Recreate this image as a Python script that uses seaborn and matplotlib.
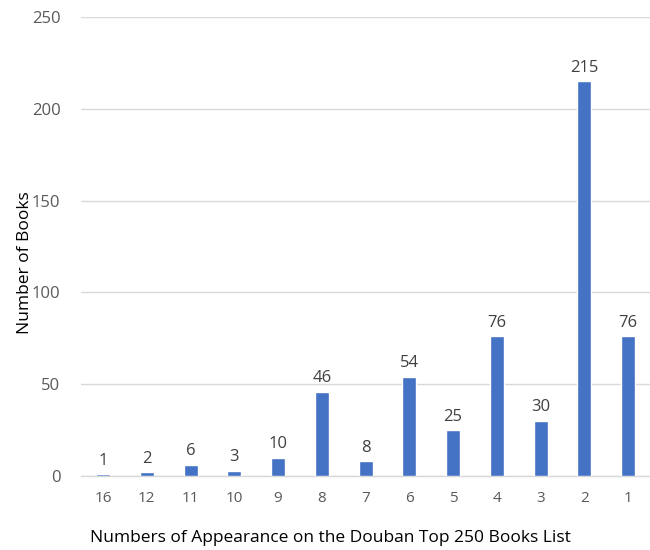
import matplotlib
matplotlib.use("Agg")
import matplotlib.pyplot as plt
import seaborn as sns
import pandas as pd

appearances = ["16", "12", "11", "10", "9", "8", "7", "6", "5", "4", "3", "2", "1"]
book_counts = [1, 2, 6, 3, 10, 46, 8, 54, 25, 76, 30, 215, 76]
y_ticks = [0, 50, 100, 150, 200, 250]

sns.set_theme(style="white")
plt.rcParams["font.family"] = ["Open Sans", "DejaVu Sans"]

df = pd.DataFrame({"appearances": appearances, "books": book_counts})

fig = plt.figure(figsize=(6.5, 5.5), dpi=100)
ax = fig.add_axes([0.125, 0.1345, 0.875, 0.8345])

sns.barplot(data=df, x="appearances", y="books", order=appearances,
            color="#4472C4", width=0.32, saturation=1, ax=ax, zorder=3)

ax.set_ylim(0, 250)
ax.set_xlim(-0.5, len(appearances) - 0.5)
ax.set_yticks(y_ticks)
ax.grid(axis="y", color="#D9D9D9", linewidth=1, zorder=0)
for s in ["top", "right", "left"]:
    ax.spines[s].set_visible(False)
ax.spines["bottom"].set_color("#D9D9D9")
ax.spines["bottom"].set_linewidth(1)

ax.tick_params(axis="both", length=0, colors="#595959")
ax.tick_params(axis="x", pad=11, labelsize=11)
ax.tick_params(axis="y", pad=15, labelsize=12)

for cont in ax.containers:
    ax.bar_label(cont, labels=[str(v) for v in book_counts], padding=4,
                 fontsize=12, color="#404040")

ax.set_xlabel("")
ax.set_ylabel("")
fig.text(0.508, 0.008, "Numbers of Appearance on the Douban Top 250 Books List",
         ha="center", va="bottom", fontsize=12.5, color="black")
fig.text(0.038, 0.523, "Number of Books", ha="center", va="center",
         rotation=90, fontsize=12.5, color="black")

fig.savefig("out.png", dpi=100)
